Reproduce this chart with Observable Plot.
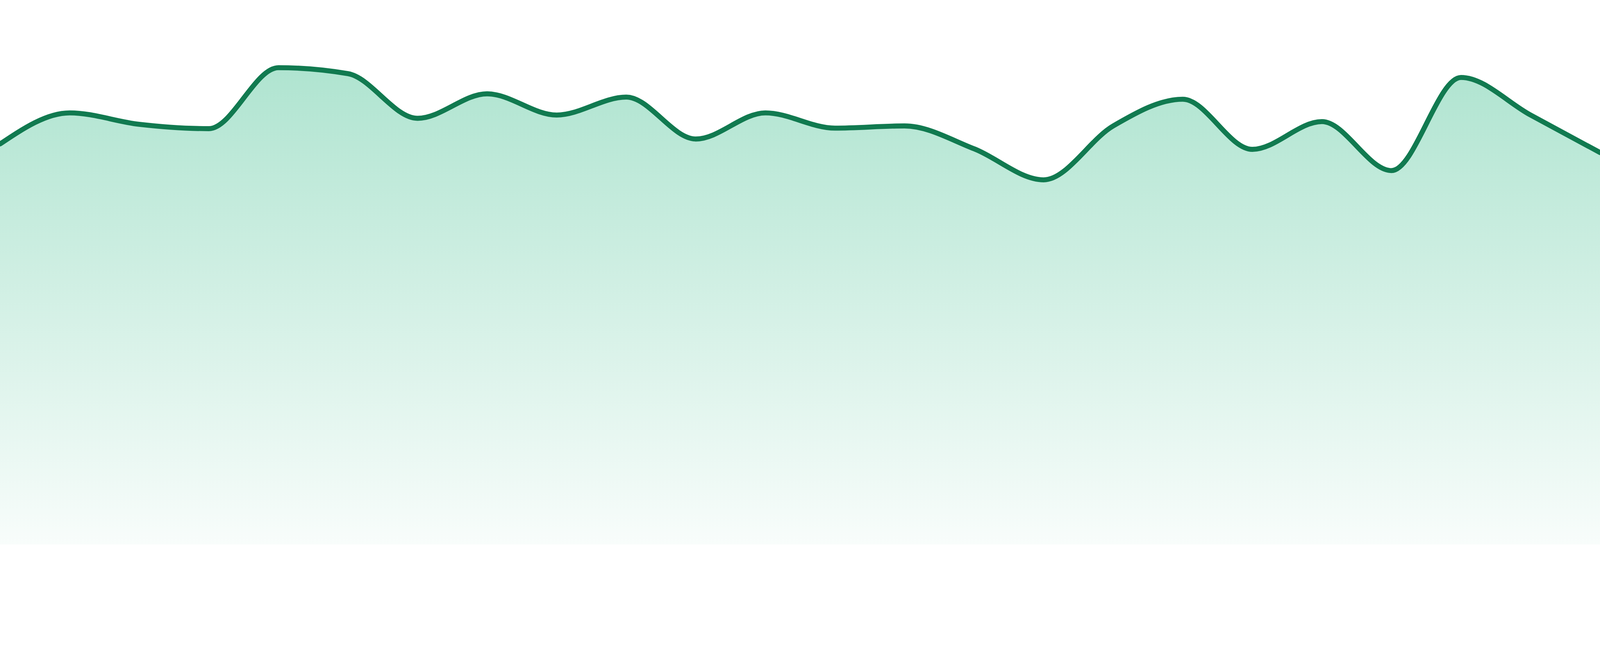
<!DOCTYPE html>
<html>
<head>
<meta charset="utf-8">
<script src="https://cdn.jsdelivr.net/npm/d3@7"></script>
<script src="https://cdn.jsdelivr.net/npm/@observablehq/plot@0.6"></script>
<style>
  html, body { margin: 0; padding: 0; background: #ffffff; }
  #chart svg { display: block; }
</style>
</head>
<body>
<div id="chart"></div>
<script>
// Data (24 evenly spaced samples)
const steps = d3.range(24);
const values = [73.6, 79.3, 77.2, 76.4, 87.6, 86.5, 78.3, 82.8, 78.9, 82.2, 74.5, 79.3,
                76.5, 76.9, 72.7, 67.0, 76.9, 81.8, 72.6, 77.7, 68.7, 85.8, 78.9, 72.0];
const yDomain = [0, 100];

const lineColor = "#117a50";
const fillColor = "#1bb279";

const data = steps.map((s, i) => ({step: s, value: values[i]}));

function gradientDefs() {
  const ns = "http://www.w3.org/2000/svg";
  const defs = document.createElementNS(ns, "defs");
  const lg = document.createElementNS(ns, "linearGradient");
  lg.setAttribute("id", "areaGradient");
  lg.setAttribute("x1", "0"); lg.setAttribute("y1", "0");
  lg.setAttribute("x2", "0"); lg.setAttribute("y2", "1");
  const stops = [[0, 0.35], [1, 0.03]];
  for (const [off, op] of stops) {
    const st = document.createElementNS(ns, "stop");
    st.setAttribute("offset", off);
    st.setAttribute("stop-color", fillColor);
    st.setAttribute("stop-opacity", op);
    lg.appendChild(st);
  }
  defs.appendChild(lg);
  return defs;
}

const chart = Plot.plot({
  width: 4800,
  height: 1680,
  marginTop: 0,
  marginRight: 0,
  marginBottom: 46,
  marginLeft: 0,
  x: {domain: [0, 23], axis: null},
  y: {domain: yDomain, axis: null},
  marks: [
    gradientDefs,
    Plot.areaY(data, {x: "step", y: "value", curve: "monotone-x", fill: "url(#areaGradient)"}),
    Plot.lineY(data, {x: "step", y: "value", curve: "monotone-x", stroke: lineColor, strokeWidth: 15})
  ]
});
document.getElementById("chart").appendChild(chart);
</script>
</body>
</html>
